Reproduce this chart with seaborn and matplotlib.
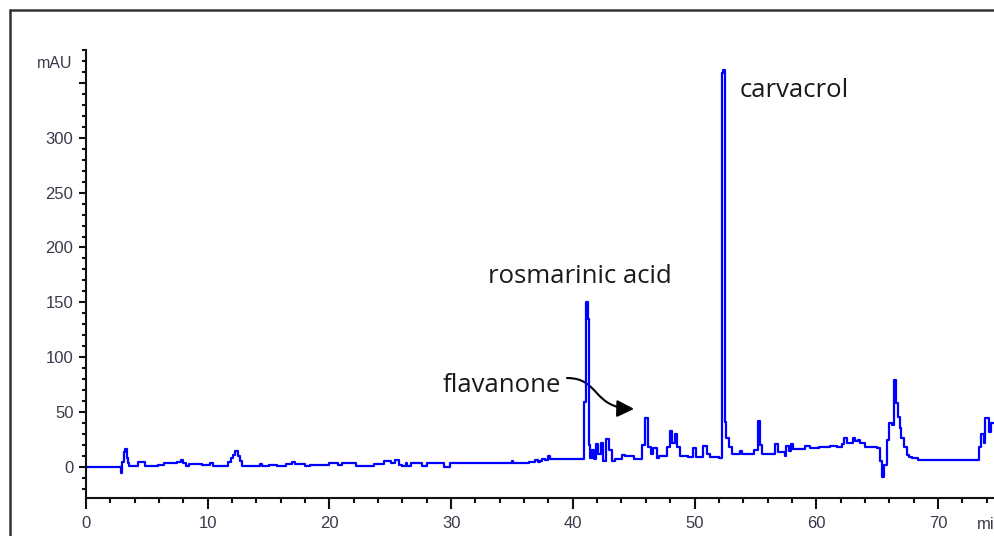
import numpy as np
import pandas as pd
import matplotlib
matplotlib.use("Agg")
import matplotlib.pyplot as plt
import seaborn as sns
from matplotlib.ticker import MultipleLocator, FuncFormatter
from matplotlib.patches import FancyArrowPatch
from matplotlib.path import Path
from matplotlib.lines import Line2D

# ---- data (step levels, steps-post) ----
retention_min = [
    0.0, 2.88, 2.96, 3.09, 3.23, 3.34, 3.42, 3.56, 4.25, 4.88, 5.9, 6.45, 7.0, 7.5, 7.8, 7.95,
    8.2, 8.5, 9.5, 10.2, 10.4, 10.9, 11.7, 11.9, 12.1, 12.25, 12.53, 12.65, 12.8, 14.3, 14.5,
    15.0, 15.7, 16.4, 16.9, 17.2, 18.0, 18.4, 20.0, 20.5, 20.7, 21.0, 22.2, 23.7, 24.5, 25.1,
    25.4, 25.7, 26.0, 26.3, 26.4, 26.7, 27.6, 28.0, 29.4, 29.9, 35.0, 35.1, 36.4, 36.9, 37.1,
    37.3, 37.45, 37.7, 37.95, 38.1, 40.92, 41.05, 41.25, 41.37, 41.45, 41.6, 41.75, 41.9, 42.1,
    42.3, 42.5, 42.75, 42.95, 43.2, 43.5, 44.05, 44.3, 45.0, 45.7, 45.9, 46.15, 46.4, 46.6,
    46.9, 47.1, 47.7, 48.0, 48.15, 48.4, 48.6, 48.8, 49.5, 49.9, 50.1, 50.7, 51.0, 51.3, 52.0,
    52.22, 52.32, 52.47, 52.6, 52.8, 53.1, 53.7, 53.9, 54.9, 55.2, 55.35, 55.55, 56.6, 56.9,
    57.4, 57.5, 57.8, 57.95, 58.1, 59.1, 59.5, 60.2, 61.1, 61.7, 62.1, 62.3, 62.5, 63.0, 63.2,
    63.4, 63.6, 64.0, 65.0, 65.2, 65.4, 65.6, 65.8, 66.0, 66.2, 66.4, 66.55, 66.7, 66.85, 67.0,
    67.25, 67.45, 67.6, 67.9, 68.4, 73.4, 73.5, 73.8, 73.9, 74.2, 74.4, 74.7,
]
absorbance_mau = [
    0, -5.5, 4, 13, 16, 8, 3, 1, 4, 0.5, 2, 3.5, 3, 4.5, 6, 3,
    1, 2.5, 1.5, 3, 1, 0.5, 4, 8, 11, 14, 10, 5, 0.5, 2.5, 1,
    2, 1, 2.5, 4, 2.5, 1, 2, 3.5, 3, 1.5, 3, 0.8, 2.5, 4.8, 3,
    6, 2, 0.5, 3, 0.5, 3, 0.8, 3, 0, 3, 5, 3, 4.5, 6, 4,
    5.5, 7, 6, 9.5, 6.7, 59, 150, 135, 20, 8, 15, 7, 21, 12,
    22, 5, 25, 15, 5, 7, 11, 9.5, 7, 20, 44, 18, 12, 17,
    8, 10, 18, 33, 22, 30, 18, 10, 9, 17, 9, 19, 12, 9, 8,
    359, 362, 41, 26, 18, 12, 14, 12, 15, 42, 20, 12, 21, 13,
    10, 19, 14, 21, 16, 19, 17, 18, 19, 18, 21, 26, 22, 26, 23,
    24, 22, 18, 17, 5, -9, 2, 24, 40, 38, 79, 58, 45, 35, 26,
    18, 11, 9, 7.5, 6.5, 18, 30, 22, 44, 32, 40, 40,
]
x_ticks = [0, 10, 20, 30, 40, 50, 60, 70]
y_ticks = [0, 50, 100, 150, 200, 250, 300]
peak_labels = ["carvacrol", "rosmarinic acid", "flavanone"]

df = pd.DataFrame({"t": retention_min, "mAU": absorbance_mau})

sns.set_style("ticks")
plt.rcParams["font.family"] = ["Liberation Sans Narrow", "DejaVu Sans Condensed", "Liberation Sans"]
plt.rcParams["font.stretch"] = "condensed"

W, H = 995, 536
fig = plt.figure(figsize=(W / 100, H / 100), dpi=100)
fig.patch.set_facecolor("white")

ax_l, ax_r, ax_top, ax_bot = 86, 995, 50.2, 498
ax = fig.add_axes([ax_l / W, (H - ax_bot) / H, (ax_r - ax_l) / W, (ax_bot - ax_top) / H])

sns.lineplot(data=df, x="t", y="mAU", ax=ax, estimator=None, sort=False,
             drawstyle="steps-post", color="#0000ff", linewidth=1.6)

ax.set_xlim(0, 74.69)
ax.set_ylim(-28.56, 380)
ax.set_xlabel("")
ax.set_ylabel("")

for s in ("top", "right"):
    ax.spines[s].set_visible(False)
for s in ("left", "bottom"):
    ax.spines[s].set_linewidth(1.5)
    ax.spines[s].set_color("#111111")

ax.xaxis.set_major_locator(MultipleLocator(10))
ax.xaxis.set_minor_locator(MultipleLocator(2))
ax.yaxis.set_major_locator(MultipleLocator(50))
ax.yaxis.set_minor_locator(MultipleLocator(10))

lab_col = "#3a3a4a"
ax.yaxis.set_major_formatter(FuncFormatter(lambda v, p: f"{int(v)}" if int(round(v)) in y_ticks else ""))
ax.xaxis.set_major_formatter(FuncFormatter(lambda v, p: f"{int(v)}" if int(round(v)) in x_ticks else ""))
ax.tick_params(axis="x", which="major", length=8, width=1.5, pad=5, labelsize=12,
               labelcolor=lab_col, color="#111111", direction="out")
ax.tick_params(axis="x", which="minor", length=3.6, width=1.5, color="#111111", direction="out")
ax.tick_params(axis="y", which="major", length=5, width=1.5, pad=4, labelsize=12,
               labelcolor=lab_col, color="#111111", direction="out")
ax.tick_params(axis="y", which="minor", length=2.9, width=1.5, color="#111111", direction="out")

# axis unit labels
ax.annotate("mAU", xy=(0, 368), xycoords=ax.get_yaxis_transform(), xytext=(-14, 0),
            textcoords="offset pixels", ha="right", va="center", fontsize=11.5, color=lab_col)
ax.annotate("min", xy=(73.2, 0), xycoords=ax.get_xaxis_transform(), xytext=(0, -19),
            textcoords="offset pixels", ha="left", va="top", fontsize=12, color=lab_col,
            annotation_clip=False)

# peak annotations
ann_font = ["Open Sans", "DejaVu Sans"]
ann_kw = dict(ha="left", va="center", fontsize=18.5, family=ann_font, color="#1a1a1a",
              fontstretch="normal")
ax.text(53.74, 342.8, peak_labels[0], **ann_kw)
ax.text(33.03, 173.5, peak_labels[1], **ann_kw)
ax.text(29.33, 74.5, peak_labels[2], **ann_kw)

verts = [(39.52, 80.9), (42.23, 80.9), (41.58, 53.6), (45.03, 52.7)]
codes = [Path.MOVETO, Path.CURVE4, Path.CURVE4, Path.CURVE4]
arrow = FancyArrowPatch(path=Path(verts, codes), arrowstyle="-|>", mutation_scale=26,
                        color="black", linewidth=1.5, transform=ax.transData)
ax.add_patch(arrow)

# outer frame (cropped screenshot border)
fig.add_artist(Line2D([10 / W, 10 / W], [0, 1 - 10 / H], transform=fig.transFigure,
                      color="#333333", linewidth=1.8))
fig.add_artist(Line2D([10 / W, 1], [1 - 10 / H, 1 - 10 / H], transform=fig.transFigure,
                      color="#333333", linewidth=1.8))

fig.savefig("out.png", dpi=100, facecolor="white")
